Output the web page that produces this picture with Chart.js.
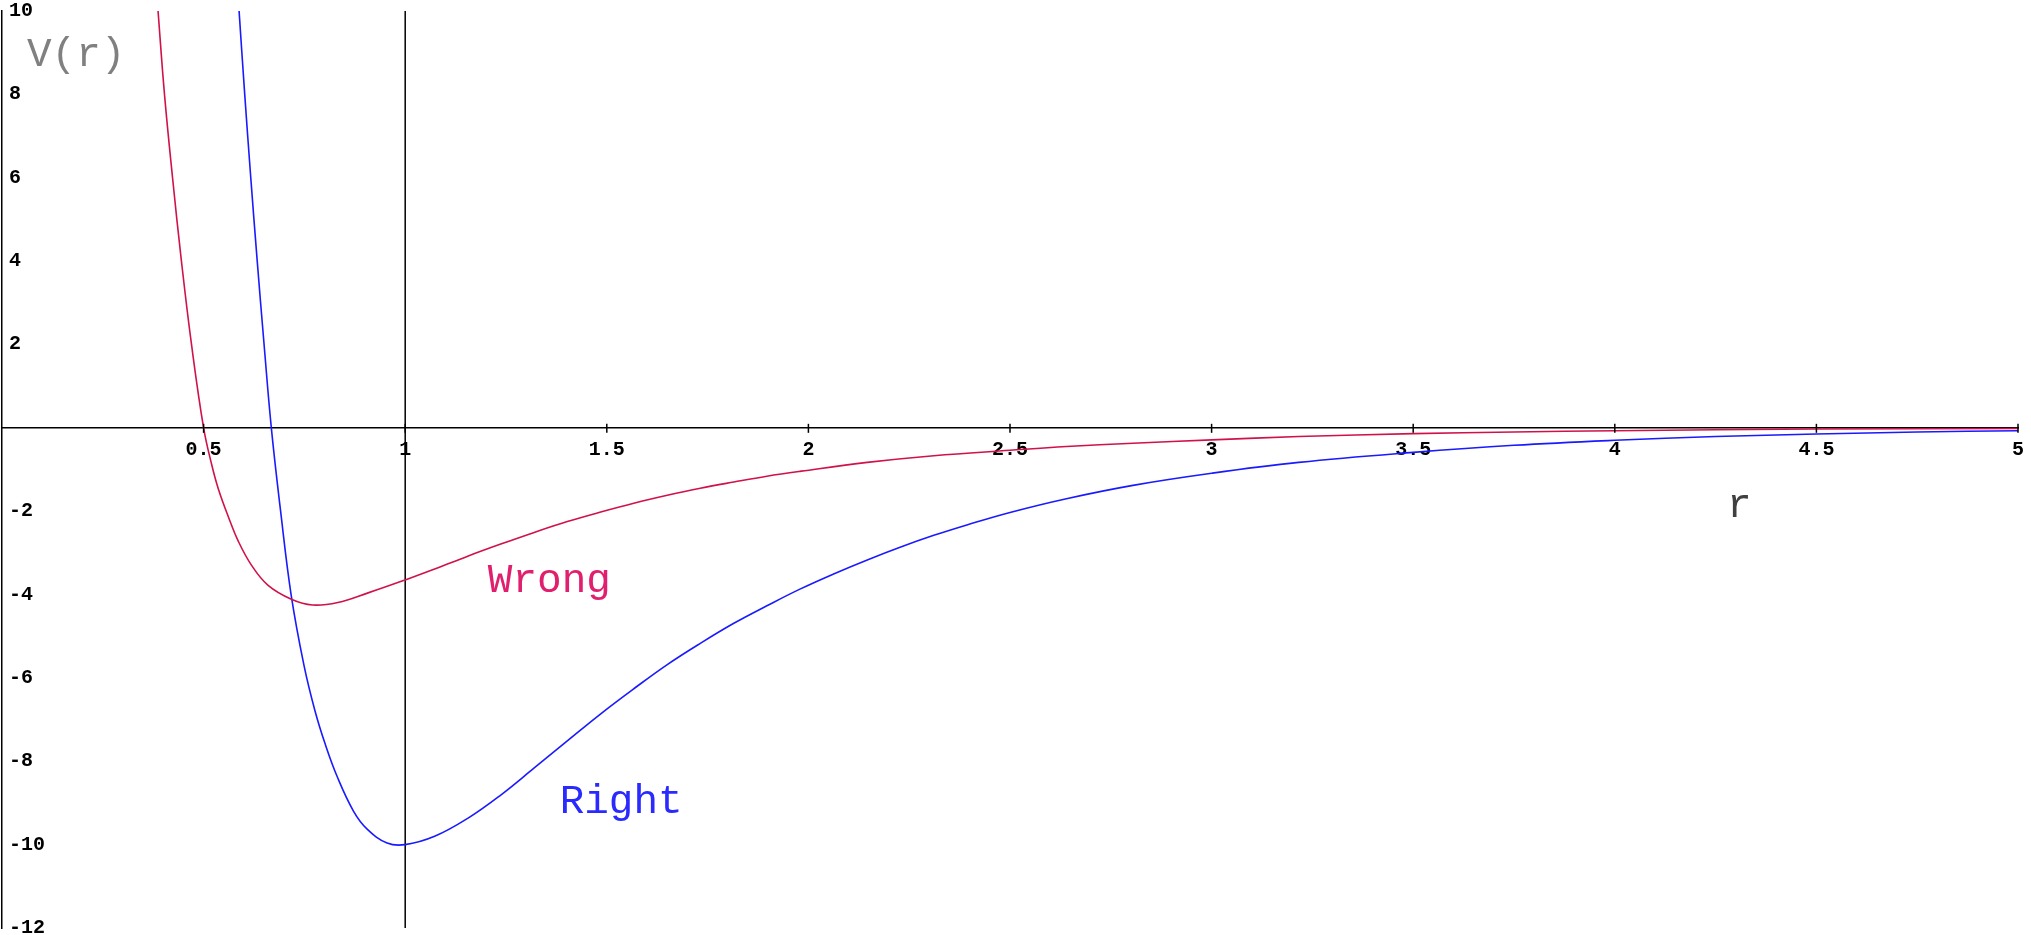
<!DOCTYPE html>
<html>
<head>
<meta charset="utf-8">
<script src="https://cdn.jsdelivr.net/npm/chart.js@4/dist/chart.umd.min.js"></script>
<style>
  html, body { margin: 0; padding: 0; background: #fff; }
  #wrap { width: 2031px; height: 935px; position: relative; }
</style>
</head>
<body>
<div id="wrap"><canvas id="myPotentialChart"></canvas></div>
<script>
// "Wrong" curve
const wrongR = [0.387, 0.403, 0.423, 0.445, 0.47, 0.5, 0.52, 0.537, 0.562, 0.586, 0.619, 0.66, 0.719, 0.77, 0.833, 0.908, 1.0, 1.073, 1.155, 1.237, 1.32, 1.402, 1.485, 1.567, 1.65, 1.732, 1.815, 1.897, 1.982, 2.146, 2.311, 2.5, 2.64, 2.805, 3.0, 3.216, 3.5, 3.75, 4.0, 4.5, 5.0]
const wrongV = [10, 8, 6, 4, 2, 0, -0.88, -1.48, -2.15, -2.72, -3.3, -3.78, -4.12, -4.25, -4.19, -3.96, -3.65, -3.39, -3.08, -2.79, -2.51, -2.25, -2.02, -1.81, -1.62, -1.45, -1.3, -1.16, -1.04, -0.83, -0.67, -0.54, -0.45, -0.37, -0.29, -0.21, -0.14, -0.1, -0.07, -0.03, -0.015]

// "Right" curve
const rightR = [0.588, 0.602, 0.617, 0.633, 0.65, 0.668, 0.691, 0.717, 0.749, 0.776, 0.802, 0.831, 0.872, 0.905, 0.955, 1.0, 1.073, 1.155, 1.237, 1.32, 1.402, 1.485, 1.567, 1.65, 1.732, 1.815, 1.897, 1.979, 2.064, 2.146, 2.229, 2.311, 2.393, 2.5, 2.64, 2.805, 3.0, 3.216, 3.5, 3.75, 4.0, 4.25, 4.5, 4.75, 5.0]
const rightV = [10, 8, 6, 4, 2, 0, -2, -4, -5.7, -6.78, -7.6, -8.36, -9.2, -9.62, -9.96, -10, -9.8, -9.37, -8.81, -8.16, -7.51, -6.86, -6.26, -5.68, -5.17, -4.69, -4.27, -3.87, -3.5, -3.17, -2.86, -2.58, -2.33, -2.03, -1.7, -1.38, -1.09, -0.83, -0.59, -0.42, -0.3, -0.21, -0.15, -0.1, -0.07]

// vertical line at r = 1
const markR = [1, 1]
const markV = [10, -12]

// text labels (data coordinates)
const labelTexts = ["V(r)", "r", "Wrong", "Right"]
const labelR = [0.062, 4.278, 1.205, 1.383]
const labelV = [8.67, -2.15, -3.95, -9.23]
const labelColors = ["#808080", "#404040", "#e0206e", "#2a2aff"]

const toPoints = (xs, ys) => xs.map((x, i) => ({ x: x, y: ys[i] }))
const tickFont = "bold 20px 'Liberation Mono', monospace"

const textPlugin = {
    id: "textLabels",
    afterDraw(chart) {
        const c = chart.ctx
        const sx = chart.scales.x
        const sy = chart.scales.y
        c.save()
        c.font = "41px 'Liberation Mono', 'Courier New', monospace"
        c.textBaseline = "alphabetic"
        c.textAlign = "left"
        labelTexts.forEach((t, i) => {
            c.fillStyle = labelColors[i]
            c.fillText(t, sx.getPixelForValue(labelR[i]), sy.getPixelForValue(labelV[i]))
        })
        // tick marks crossing the r axis
        const y0 = sy.getPixelForValue(0)
        c.strokeStyle = "#000"
        c.lineWidth = 1.5
        sx.ticks.forEach(tk => {
            if (tk.value === 0) return
            const px = sx.getPixelForValue(tk.value)
            c.beginPath()
            c.moveTo(px, y0 - 4)
            c.lineTo(px, y0 + 5)
            c.stroke()
        })
        // V axis labels, right of the axis
        const x0 = sx.getPixelForValue(0)
        c.fillStyle = "#000"
        c.font = tickFont
        c.textBaseline = "middle"
        sy.ticks.forEach(tk => {
            if (tk.value === 0) return
            c.fillText(String(tk.value), x0 + 7, sy.getPixelForValue(tk.value))
        })
        c.restore()
    },
}

var ctx = document.getElementById("myPotentialChart").getContext("2d")
const config = {
    type: "scatter",
    data: {
        datasets: [
            {
                label: "Wrong",
                data: toPoints(wrongR, wrongV),
                borderColor: "#d0124a",
                borderWidth: 1.6,
            },
            {
                label: "Right",
                data: toPoints(rightR, rightV),
                borderColor: "#1a1aff",
                borderWidth: 1.6,
            },
            {
                label: "r = 1",
                data: toPoints(markR, markV),
                borderColor: "#000",
                borderWidth: 1.5,
                tension: 0,
            },
        ],
    },
    options: {
        responsive: true,
        maintainAspectRatio: false,
        animation: false,
        showLine: true,
        elements: {
            point: { radius: 0, hoverRadius: 0 },
            line: { tension: 0.4, fill: false },
        },
        layout: { padding: { top: 11, bottom: 7, left: 2, right: 13 } },
        plugins: {
            legend: { display: false },
            tooltip: { enabled: false },
        },
        scales: {
            x: {
                type: "linear",
                min: 0,
                max: 5,
                position: { y: 0 },
                grid: {
                    display: true,
                    drawOnChartArea: false,
                    drawTicks: true,
                    tickLength: 10,
                    tickColor: "rgba(0,0,0,0)",
                },
                border: { color: "#000", width: 1.5 },
                ticks: {
                    stepSize: 0.5,
                    autoSkip: false,
                    maxRotation: 0,
                    padding: 0,
                    color: "#000",
                    font: { family: "'Liberation Mono', monospace", size: 20, weight: "bold" },
                    callback: (v) => (v === 0 ? "" : String(v)),
                },
            },
            y: {
                type: "linear",
                min: -12,
                max: 10,
                position: { x: 0 },
                grid: { display: false },
                border: { color: "#000", width: 1.5 },
                ticks: { stepSize: 2, display: false },
            },
        },
    },
    plugins: [textPlugin],
}
var myChart = new Chart(ctx, config)
</script>
</body>
</html>
